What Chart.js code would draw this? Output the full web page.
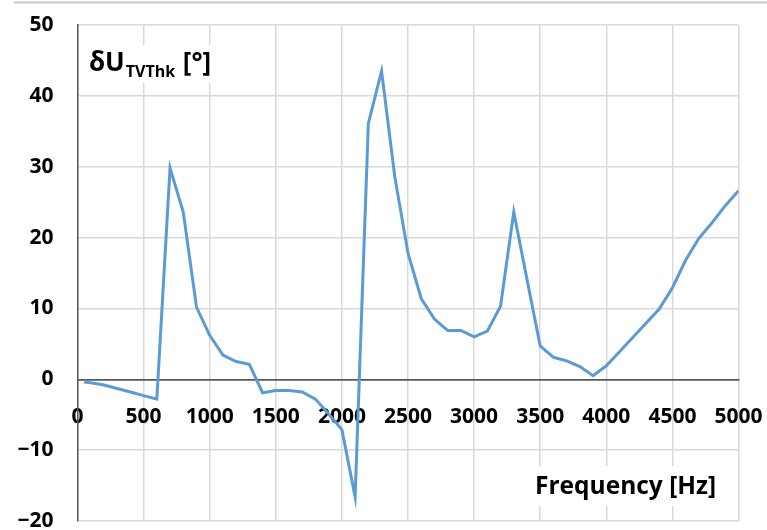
<!DOCTYPE html>
<html>
<head>
<meta charset="utf-8">
<script src="https://cdn.jsdelivr.net/npm/chart.js@4"></script>
<style>
    html, body { margin: 0; padding: 0; background: #fff; }
    .chart-box { width: 767px; height: 530px; position: relative; }
</style>
</head>
<body>
<div class="chart-box"><canvas id="phaseChart"></canvas></div>
<script>
// Frequency sweep (Hz) and phase deviation dU_TVThk (degrees)
const freqHz = [50, 100, 200, 300, 400, 500, 600, 700, 800, 900, 1000,
    1100, 1200, 1300, 1400, 1500, 1600, 1700, 1800, 1900, 2000,
    2100, 2200, 2300, 2400, 2500, 2600, 2700, 2800, 2900, 3000,
    3100, 3200, 3300, 3400, 3500, 3600, 3700, 3800, 3900, 4000,
    4100, 4200, 4300, 4400, 4500, 4600, 4700, 4800, 4900, 5000];
const dUdeg = [-0.4, -0.5, -0.8, -1.3, -1.8, -2.3, -2.8, 29.8, 23.6, 10.2, 6.2,
    3.4, 2.5, 2.1, -1.9, -1.6, -1.6, -1.8, -2.8, -4.9, -7.1,
    -16.6, 36.1, 43.5, 28.6, 17.8, 11.4, 8.5, 6.9, 6.9, 6.0,
    6.8, 10.3, 23.6, 14.1, 4.7, 3.1, 2.6, 1.8, 0.5, 1.9,
    3.9, 5.9, 7.9, 9.9, 12.9, 16.8, 19.9, 22.1, 24.5, 26.6];

// Axis ranges / tick steps
const xRange = [0, 5000];
const xStep = 500;
const yRange = [-20, 50];
const yStep = 10;

const yTitleMain = 'δU';
const yTitleSub = 'TVThk';
const yTitleUnit = ' [°]';
const xTitle = 'Frequency [Hz]';

const FONT = "'Open Sans', 'Liberation Sans', sans-serif";
const gridGray = '#d9d9d9';
const axisGray = '#595959';

// keep tick label overflow from pushing the plot area around
function noOverflow(scale) {
    scale.paddingLeft = 0;
    scale.paddingRight = 0;
    scale.paddingTop = 0;
    scale.paddingBottom = 0;
}

// draws the top frame line and the two axis titles
const titlesPlugin = {
    id: 'titles',
    beforeDraw(chart) {
        const ctx = chart.ctx;
        ctx.save();
        ctx.strokeStyle = '#c8c8c8';
        ctx.lineWidth = 2;
        ctx.beginPath();
        ctx.moveTo(14, 2.5);
        ctx.lineTo(chart.width, 2.5);
        ctx.stroke();
        ctx.restore();
    },
    afterDraw(chart) {
        const ctx = chart.ctx;
        ctx.save();
        ctx.textBaseline = 'alphabetic';

        // y title with subscript
        let x = 89;
        const base = 71;
        ctx.font = '700 26px ' + FONT;
        const w1 = ctx.measureText(yTitleMain).width;
        ctx.font = '700 16px ' + FONT;
        const w2 = ctx.measureText(yTitleSub).width;
        ctx.font = '700 26px ' + FONT;
        const w3 = ctx.measureText(yTitleUnit).width;
        ctx.fillStyle = '#fff';
        ctx.fillRect(x - 4, base - 26, w1 + w2 + w3 + 8, 38);
        ctx.fillStyle = '#000';
        ctx.fillText(yTitleMain, x, base);
        x += w1 + 1;
        ctx.font = '700 16px ' + FONT;
        ctx.fillText(yTitleSub, x, base + 6);
        x += w2 + 1;
        ctx.font = '700 26px ' + FONT;
        ctx.fillText(yTitleUnit, x, base);

        // x title
        ctx.font = '700 24.5px ' + FONT;
        const wx = ctx.measureText(xTitle).width;
        const xb = 494;
        ctx.fillStyle = '#fff';
        ctx.fillRect(531, xb - 28, wx + 8, 40);
        ctx.fillStyle = '#000';
        ctx.fillText(xTitle, 535, xb);
        ctx.restore();
    }
};

const points = freqHz.map((f, i) => ({ x: f, y: dUdeg[i] }));

new Chart(document.getElementById('phaseChart').getContext('2d'), {
    type: 'line',
    data: {
        datasets: [{
            data: points,
            borderColor: '#5b9bd5',
            borderWidth: 3,
            pointRadius: 0,
            fill: false,
            tension: 0
        }]
    },
    options: {
        responsive: true,
        maintainAspectRatio: false,
        animation: false,
        layout: { padding: { left: 0, right: 28.5, top: 25, bottom: 9 } },
        plugins: {
            legend: { display: false },
            tooltip: { enabled: false }
        },
        scales: {
            x: {
                type: 'linear',
                position: { y: 0 },
                min: xRange[0],
                max: xRange[1],
                afterFit: noOverflow,
                ticks: {
                    stepSize: xStep,
                    color: '#000',
                    padding: 25,
                    maxRotation: 0,
                    autoSkip: false,
                    font: { family: FONT, size: 21, weight: '700' },
                    callback: v => String(v)
                },
                grid: { color: gridGray, lineWidth: 1.5, drawTicks: false },
                border: { display: true, color: axisGray, width: 1.5 }
            },
            y: {
                min: yRange[0],
                max: yRange[1],
                afterFit(scale) {
                    noOverflow(scale);
                    scale.width = 77.5;
                },
                ticks: {
                    stepSize: yStep,
                    color: '#000',
                    padding: 24,
                    font: { family: FONT, size: 21, weight: '700' },
                    callback: v => v < 0 ? '\u2212' + Math.abs(v) : String(v)
                },
                grid: {
                    color: c => c.tick && c.tick.value === 0 ? axisGray : gridGray,
                    lineWidth: 1.5,
                    drawTicks: false
                },
                border: { display: true, color: axisGray, width: 1.5 }
            }
        }
    },
    plugins: [titlesPlugin]
});
</script>
</body>
</html>
